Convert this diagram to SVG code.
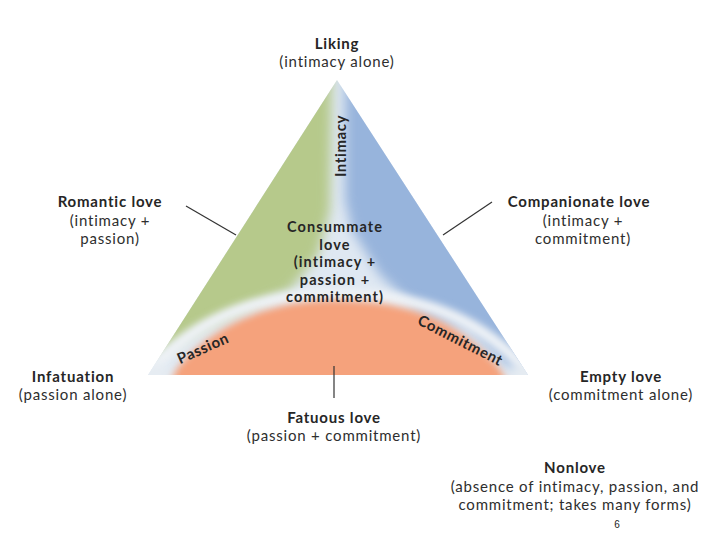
<svg xmlns="http://www.w3.org/2000/svg" width="720" height="540" viewBox="0 0 720 540">
<style>
.t{font-family:"Lato","Open Sans","Liberation Sans",sans-serif;font-size:15px;letter-spacing:0.8px;fill:#2e2e2e;text-anchor:middle}
.b{font-weight:bold;fill:#262626}
.c{font-family:"Lato","Open Sans","Liberation Sans",sans-serif;font-size:14.5px;letter-spacing:1.1px;fill:#262626;font-weight:bold;text-anchor:middle}
.a{font-family:"Lato","Open Sans","Liberation Sans",sans-serif;font-size:15px;letter-spacing:0.6px;fill:#262626;font-weight:bold;text-anchor:middle}
.ln{stroke:#333;stroke-width:1.2;fill:none}
</style>
<defs>
<clipPath id="tri"><polygon points="148,375 337,80 528,375"/></clipPath>
<filter id="blur" x="-20%" y="-20%" width="140%" height="140%"><feGaussianBlur stdDeviation="6"/></filter>
<filter id="blur2" x="-20%" y="-20%" width="140%" height="140%"><feGaussianBlur stdDeviation="3.5"/></filter>
</defs>
<g id="triangle">
<g clip-path="url(#tri)">
<rect x="140" y="70" width="400" height="320" fill="#dfe8f2"/>
<polygon filter="url(#blur)" fill="#b6c98b" points="100,390 332,50 330,210 318,255 290,290 200,330 130,370"/>
<polygon filter="url(#blur)" fill="#97b4dc" points="345,50 580,390 515,372 470,330 420,312 380,275 352,230 345,200"/>
<path filter="url(#blur2)" fill="none" stroke="#eef2f6" stroke-width="12" d="M150,372 C190,325 245,296 332,294 C420,294 480,318 528,372"/>
<path filter="url(#blur2)" fill="#f5a27b" d="M165,385 C195,338 250,302 332,300 C415,300 470,325 512,385 Z"/>
<ellipse filter="url(#blur)" fill="#e6ecf2" cx="150" cy="375" rx="22" ry="12"/>
<ellipse filter="url(#blur)" fill="#e6ecf2" cx="528" cy="375" rx="22" ry="12"/>
<line filter="url(#blur2)" x1="140" y1="377" x2="540" y2="377" stroke="#fbe9df" stroke-width="5"/>
</g>
</g>
<g id="labels-axes">
<text class="a" transform="translate(346,146) rotate(-90)">Intimacy</text>
<text class="a" transform="translate(205,353) rotate(-24)">Passion</text>
<text class="a" transform="translate(458,345) rotate(27)">Commitment</text>
</g>
<g id="connectors">
<line class="ln" x1="186" y1="206" x2="236" y2="235"/>
<line class="ln" x1="492" y1="202" x2="443" y2="235"/>
<line class="ln" x1="334" y1="366" x2="334" y2="398"/>
</g>
<g id="liking"><text class="t b" x="337" y="49">Liking</text><text class="t" x="337" y="67">(intimacy alone)</text></g>
<g id="romantic"><text class="t b" x="110" y="207">Romantic love</text><text class="t" x="110" y="225.5">(intimacy +</text><text class="t" x="110" y="244">passion)</text></g>
<g id="companionate"><text class="t b" x="579" y="207">Companionate love</text><text class="t" x="583" y="225.5">(intimacy +</text><text class="t" x="583" y="244">commitment)</text></g>
<g id="consummate"><text class="c" x="335" y="232">Consummate</text><text class="c" x="335" y="249.5">love</text><text class="c" x="335" y="267">(intimacy +</text><text class="c" x="335" y="284.5">passion +</text><text class="c" x="335" y="302">commitment)</text></g>
<g id="infatuation"><text class="t b" x="73" y="381.5">Infatuation</text><text class="t" x="73" y="400">(passion alone)</text></g>
<g id="empty"><text class="t b" x="621" y="381.5">Empty love</text><text class="t" x="621" y="400">(commitment alone)</text></g>
<g id="fatuous"><text class="t b" x="334" y="422.5">Fatuous love</text><text class="t" x="334" y="441">(passion + commitment)</text></g>
<g id="nonlove"><text class="t b" x="575" y="473">Nonlove</text><text class="t" x="575" y="491.5">(absence of intimacy, passion, and</text><text class="t" x="575" y="510">commitment; takes many forms)</text></g>
<text x="617" y="528" style="font-family:'Liberation Sans',sans-serif;font-size:10px;fill:#222;text-anchor:middle">6</text>
</svg>
